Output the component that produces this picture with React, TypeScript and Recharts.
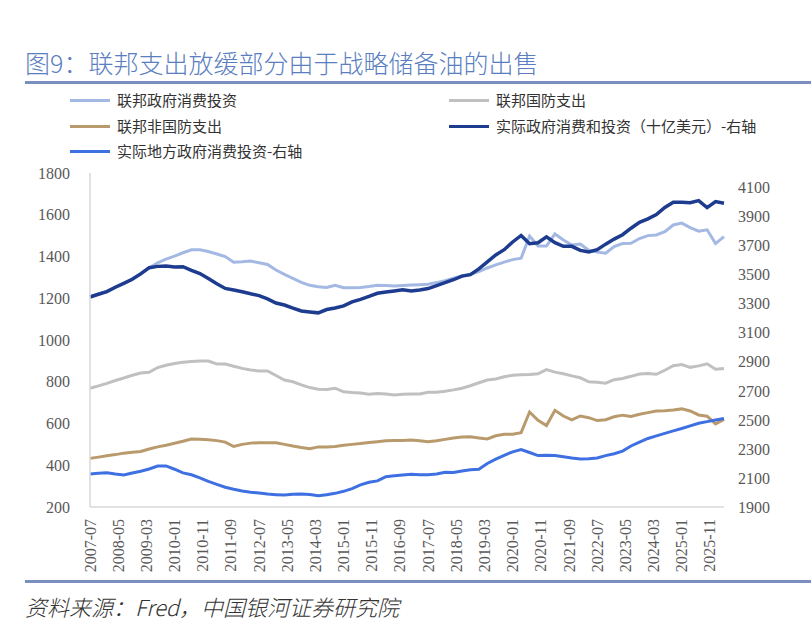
import React from 'react';
import { LineChart, Line, XAxis, YAxis } from 'recharts';

// quarterly points, 2007-07 onward (x position is months since 2007-07)
const tickLabels = [
  '2007-07', '2008-05', '2009-03', '2010-01', '2010-11', '2011-09', '2012-07', '2013-05',
  '2014-03', '2015-01', '2015-11', '2016-09', '2017-07', '2018-05', '2019-03', '2020-01',
  '2020-11', '2021-09', '2022-07', '2023-05', '2024-03', '2025-01', '2025-11',
];

// 联邦政府消费投资 (left axis)
const fedGov = [
  1207, 1221, 1233, 1254, 1273, 1292, 1318, 1345, 1370, 1387, 1402, 1418, 1432, 1432, 1424, 1412,
  1400, 1373, 1375, 1378, 1370, 1362, 1335, 1314, 1295, 1276, 1262, 1255, 1252, 1262, 1250, 1250,
  1252, 1256, 1262, 1261, 1259, 1261, 1263, 1265, 1267, 1275, 1284, 1296, 1307, 1315, 1328, 1345,
  1360, 1373, 1385, 1392, 1498, 1450, 1450, 1508, 1479, 1455, 1460, 1430, 1421, 1416, 1448, 1462,
  1463, 1486, 1500, 1503, 1519, 1551, 1560, 1538, 1521, 1528, 1462, 1495,
];

// 联邦国防支出 (left axis)
const defense = [
  769, 780, 792, 806, 818, 831, 842, 845, 868, 879, 887, 893, 897, 899, 899, 885,
  885, 874, 864, 856, 852, 852, 830, 808, 800, 785, 772, 764, 763, 769, 752, 748,
  746, 740, 744, 741, 737, 740, 741, 741, 750, 750, 755, 761, 769, 781, 795, 808,
  813, 824, 831, 833, 835, 838, 858, 846, 838, 828, 819, 800, 798, 793, 810, 816,
  826, 837, 840, 836, 855, 877, 882, 869, 876, 886, 860, 864,
];

// 联邦非国防支出 (left axis)
const nonDefense = [
  433, 439, 445, 451, 458, 462, 466, 478, 488, 496, 505, 515, 526, 525, 522, 518,
  511, 490, 500, 506, 508, 508, 508, 500, 492, 485, 479, 488, 487, 490, 496, 500,
  504, 509, 513, 517, 518, 519, 521, 517, 513, 517, 524, 531, 535, 536, 531, 526,
  541, 548, 549, 556, 655, 615, 590, 663, 636, 617, 636, 628, 614, 618, 632, 640,
  634, 644, 652, 660, 661, 665, 670, 660, 641, 635, 598, 620,
];

// 实际政府消费和投资（十亿美元）(right axis)
const realGov = [
  3346, 3365, 3383, 3413, 3440, 3468, 3505, 3548, 3557, 3560, 3553, 3555, 3530, 3508, 3473, 3438,
  3405, 3394, 3382, 3368, 3356, 3333, 3305, 3291, 3270, 3250, 3243, 3237, 3260, 3270, 3285, 3312,
  3330, 3350, 3372, 3380, 3388, 3396, 3388, 3395, 3404, 3425, 3445, 3465, 3490, 3500, 3540, 3588,
  3636, 3672, 3725, 3770, 3713, 3720, 3760, 3720, 3695, 3695, 3667, 3656, 3672, 3710, 3745, 3775,
  3820, 3860, 3884, 3914, 3963, 3999, 3998, 3996, 4010, 3962, 4003, 3992,
];

// 实际地方政府消费投资 (right axis)
const realLocal = [
  2127, 2132, 2135, 2127, 2121, 2134, 2146, 2162, 2182, 2183, 2160, 2135, 2122, 2100, 2076, 2056,
  2036, 2022, 2010, 2002, 1996, 1989, 1985, 1982, 1988, 1990, 1986, 1977, 1985, 1994, 2008, 2027,
  2052, 2070, 2080, 2109, 2115, 2120, 2125, 2122, 2122, 2128, 2139, 2137, 2148, 2157, 2160, 2200,
  2230, 2256, 2280, 2295, 2275, 2254, 2256, 2255, 2246, 2237, 2230, 2233, 2238, 2254, 2267, 2285,
  2320, 2347, 2372, 2390, 2407, 2424, 2441, 2459, 2477, 2488, 2499, 2510,
];

const leftTicks = [200, 400, 600, 800, 1000, 1200, 1400, 1600, 1800];
const rightTicks = [1900, 2100, 2300, 2500, 2700, 2900, 3100, 3300, 3500, 3700, 3900, 4100];

const chartData = fedGov.map((v, i) => ({
  m: i * 3,
  fedGov: v,
  defense: defense[i],
  nonDefense: nonDefense[i],
  realGov: realGov[i],
  realLocal: realLocal[i],
}));

const xTicks = tickLabels.map((_, i) => i * 10);

const COLORS = {
  fedGov: '#a3b9e3',
  defense: '#c0c0c0',
  nonDefense: '#b99a6c',
  realGov: '#1d3c8f',
  realLocal: '#3f70e2',
};

const tickStyle = { fontSize: 16, fill: '#595959', fontFamily: '"Liberation Serif", serif' };
const cjk = '"Noto Sans CJK SC", "Noto Sans", sans-serif';

const XTick = (props: any) => {
  const { x, y, payload } = props;
  return (
    <g transform={`translate(${x},${y + 4})`}>
      <text
        transform="rotate(-90)"
        textAnchor="end"
        dominantBaseline="central"
        {...tickStyle}
      >
        {tickLabels[Math.round(payload.value / 10)]}
      </text>
    </g>
  );
};

const legendItems = [
  { label: '联邦政府消费投资', color: COLORS.fedGov, x: 70, y: 100 },
  { label: '联邦国防支出', color: COLORS.defense, x: 449, y: 100 },
  { label: '联邦非国防支出', color: COLORS.nonDefense, x: 70, y: 126 },
  { label: '实际政府消费和投资（十亿美元）-右轴', color: COLORS.realGov, x: 449, y: 126 },
  { label: '实际地方政府消费投资-右轴', color: COLORS.realLocal, x: 70, y: 151 },
];

export default function App() {
  return (
    <div style={{ position: 'absolute', left: 0, top: 0, width: 811, height: 642, background: '#fff', overflow: 'hidden' }}>
      <div style={{ position: 'absolute', left: 25, top: 47, fontSize: 25, lineHeight: '30px', fontWeight: 300, color: '#5a7ec0', fontFamily: cjk, whiteSpace: 'nowrap' }}>
        图9：联邦支出放缓部分由于战略储备油的出售
      </div>
      <div style={{ position: 'absolute', left: 25, top: 81, width: 786, height: 3, background: '#7a8fc0' }} />

      {legendItems.map(item => (
        <div key={item.label}>
          <div style={{ position: 'absolute', left: item.x, top: item.y - 1.5, width: 40, height: 3, background: item.color }} />
          <div style={{ position: 'absolute', left: item.x + 47, top: item.y - 10, fontSize: 15, lineHeight: '20px', color: '#333', fontFamily: cjk, whiteSpace: 'nowrap' }}>
            {item.label}
          </div>
        </div>
      ))}

      <div style={{ position: 'absolute', left: 0, top: 150 }}>
        <LineChart width={811} height={440} data={chartData} margin={{ top: 23, right: 0, bottom: 0, left: 0 }}>
          <XAxis
            dataKey="m"
            type="number"
            domain={[0, 225]}
            ticks={xTicks}
            interval={0}
            height={83}
            tick={<XTick />}
            tickLine={false}
            axisLine={{ stroke: '#d9d9d9', strokeWidth: 1.5 }}
          />
          <YAxis
            yAxisId="left"
            orientation="left"
            width={90}
            domain={[200, 1800]}
            ticks={leftTicks}
            interval={0}
            tickLine={false}
            tickMargin={14}
            axisLine={{ stroke: '#d9d9d9', strokeWidth: 1.5 }}
            tick={tickStyle}
          />
          <YAxis
            yAxisId="right"
            orientation="right"
            width={87}
            domain={[1900, 4200]}
            ticks={rightTicks}
            interval={0}
            tickLine={false}
            tickMargin={8}
            axisLine={false}
            tick={tickStyle}
          />
          <Line yAxisId="left" dataKey="fedGov" stroke={COLORS.fedGov} strokeWidth={3} dot={false} isAnimationActive={false} />
          <Line yAxisId="left" dataKey="defense" stroke={COLORS.defense} strokeWidth={3} dot={false} isAnimationActive={false} />
          <Line yAxisId="left" dataKey="nonDefense" stroke={COLORS.nonDefense} strokeWidth={3} dot={false} isAnimationActive={false} />
          <Line yAxisId="right" dataKey="realGov" stroke={COLORS.realGov} strokeWidth={3.5} dot={false} isAnimationActive={false} />
          <Line yAxisId="right" dataKey="realLocal" stroke={COLORS.realLocal} strokeWidth={3} dot={false} isAnimationActive={false} />
        </LineChart>
      </div>

      <div style={{ position: 'absolute', left: 25, top: 580, width: 786, height: 3, background: '#7a8fc0' }} />
      <div style={{ position: 'absolute', left: 25, top: 592, fontSize: 22, lineHeight: '28px', color: '#333', fontFamily: cjk, fontWeight: 300, fontStyle: 'italic', whiteSpace: 'nowrap' }}>
        资料来源：Fred，中国银河证券研究院
      </div>
    </div>
  );
}
